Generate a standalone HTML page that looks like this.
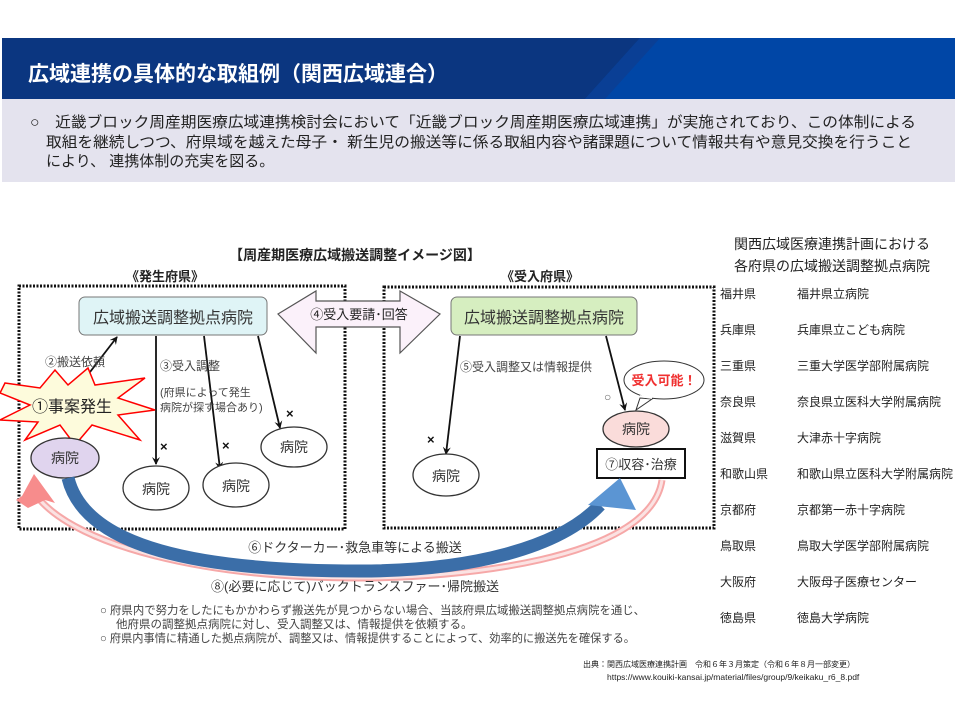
<!DOCTYPE html>
<html><head><meta charset="utf-8"><style>
body{margin:0;width:960px;height:720px;background:#fff;overflow:hidden;font-family:"Liberation Sans","Noto Sans CJK JP",sans-serif}
svg text{font-family:"Liberation Sans","Noto Sans CJK JP",sans-serif}
</style></head><body>
<svg width="960" height="720" viewBox="0 0 960 720" xmlns="http://www.w3.org/2000/svg">
<defs>
<marker id="ah" markerWidth="8" markerHeight="8" refX="7" refY="4" orient="auto" markerUnits="userSpaceOnUse"><path d="M0,0 L8,4 L0,8 L3,4 Z" fill="#111"/></marker>
</defs>
<rect x="2" y="38" width="953" height="61" fill="#0b3680"/>
<polygon points="640,38 955,38 955,99 585,99" fill="#0046a6"/>
<polygon points="640,38 660,38 605,99 585,99" fill="#0a3f95"/>
<text x="28" y="81" font-size="21" font-weight="bold" fill="#fff">広域連携の具体的な取組例（関西広域連合）</text>
<rect x="2" y="99" width="953" height="83" fill="#e4e3ee"/>
<g font-size="15" fill="#222">
<text x="30" y="127" textLength="886" lengthAdjust="spacingAndGlyphs">○　近畿ブロック周産期医療広域連携検討会において「近畿ブロック周産期医療広域連携」が実施されており、この体制による</text>
<text x="46" y="147" textLength="866" lengthAdjust="spacingAndGlyphs">取組を継続しつつ、府県域を越えた母子・ 新生児の搬送等に係る取組内容や諸課題について情報共有や意見交換を行うこと</text>
<text x="46" y="166">により、 連携体制の充実を図る。</text>
</g>
<text x="355" y="260" font-size="14" font-weight="bold" text-anchor="middle" fill="#222">【周産期医療広域搬送調整イメージ図】</text>
<text x="165" y="281" font-size="13" font-weight="bold" text-anchor="middle" fill="#222">《発生府県》</text>
<text x="540" y="281" font-size="13" font-weight="bold" text-anchor="middle" fill="#222">《受入府県》</text>
<rect x="19" y="286" width="326" height="243" fill="none" stroke="#111" stroke-width="3" stroke-dasharray="2,1.5"/>
<rect x="384" y="287" width="330" height="241" fill="none" stroke="#111" stroke-width="3" stroke-dasharray="2,1.5"/>
<polygon points="278,314 316,291 316,301 400,301 400,291 440,314 400,353 400,327 316,327 316,353" fill="#fbf1fa" stroke="#555" stroke-width="1.2"/>
<text x="359" y="319" font-size="13" text-anchor="middle" fill="#222">④受入要請･回答</text>
<rect x="79" y="297" width="188" height="38" rx="6" fill="#dff4f6" stroke="#777"/>
<text x="173" y="323" font-size="16" text-anchor="middle" fill="#333">広域搬送調整拠点病院</text>
<rect x="451" y="297" width="186" height="38" rx="6" fill="#d6eec0" stroke="#777"/>
<text x="544" y="323" font-size="16" text-anchor="middle" fill="#333">広域搬送調整拠点病院</text>
<g stroke="#111" stroke-width="1.8" fill="none" marker-end="url(#ah)">
<line x1="80" y1="385" x2="117" y2="337"/>
<line x1="156" y1="336" x2="156" y2="464"/>
<line x1="204" y1="336" x2="220" y2="469"/>
<line x1="258" y1="336" x2="280" y2="428"/>
<line x1="460" y1="336" x2="446" y2="454"/>
<line x1="606" y1="336" x2="625" y2="410"/>
</g>
<g font-size="12" fill="#444">
<text x="45" y="366">②搬送依頼</text>
<text x="160" y="370">③受入調整</text>
<text x="160" y="396" font-size="11">(府県によって発生</text>
<text x="160" y="411" font-size="11">病院が探す場合あり)</text>
<text x="460" y="371">⑤受入調整又は情報提供</text>
</g>
<g font-size="13" font-weight="bold" fill="#111">
<text x="160" y="451">×</text><text x="222" y="450">×</text><text x="286" y="418">×</text><text x="427" y="444">×</text>
</g>
<text x="604" y="401" font-size="12" fill="#666">○</text>
<polygon points="5,383 40,388 55,370 68,385 88,368 95,385 145,378 118,398 155,410 118,415 140,440 92,425 75,445 60,425 25,440 38,422 0,420 30,405 0,393" fill="#fdfbdc" stroke="#f00" stroke-width="1.5"/>
<text x="72" y="412" font-size="16" text-anchor="middle" fill="#222">①事案発生</text>
<g stroke="#333" stroke-width="1.3">
<ellipse cx="65" cy="458" rx="34" ry="20" fill="#e0d4ee"/>
<ellipse cx="156" cy="488" rx="33" ry="22" fill="#fff"/>
<ellipse cx="236" cy="485" rx="33" ry="22" fill="#fff"/>
<ellipse cx="294" cy="447" rx="33" ry="20" fill="#fff"/>
<ellipse cx="446" cy="475" rx="33" ry="21" fill="#fff"/>
<ellipse cx="636" cy="429" rx="33" ry="18" fill="#fadcda"/>
</g>
<g font-size="14" text-anchor="middle" fill="#333">
<text x="65" y="463">病院</text><text x="156" y="494">病院</text><text x="236" y="491">病院</text><text x="294" y="452">病院</text><text x="446" y="481">病院</text><text x="636" y="434">病院</text>
</g>
<path d="M640,398 L636,410 L652,399 Z" fill="#fff" stroke="#333"/>
<ellipse cx="664" cy="380" rx="40" ry="19" fill="#fff" stroke="#333"/>
<path d="M640,396 L652,398" stroke="#fff" stroke-width="2"/>
<text x="664" y="385" font-size="13" font-weight="bold" text-anchor="middle" fill="#f03030">受入可能！</text>
<rect x="597" y="449" width="88" height="29" fill="#fff" stroke="#111" stroke-width="2"/>
<text x="641" y="469" font-size="13" text-anchor="middle" fill="#333">⑦収容･治療</text>
<path d="M662,480 C650,562 450,578 360,578 C200,578 80,545 40,500" fill="none" stroke="#f6a8a8" stroke-width="7"/>
<path d="M662,480 C650,562 450,578 360,578 C200,578 80,545 40,500" fill="none" stroke="#fbe2e2" stroke-width="3"/>
<polygon points="34,474 55,503 45,500 28,508 16,500 22,496" fill="#f78c8c"/>
<path d="M68,478 C85,548 200,571 360,571 C470,571 560,548 600,505" fill="none" stroke="#3b6ea8" stroke-width="13"/>
<polygon points="620,478 636,510 588,505" fill="#5b95d3"/>
<text x="355" y="552" font-size="13" text-anchor="middle" fill="#333">⑥ドクターカー･救急車等による搬送</text>
<text x="355" y="591" font-size="13" text-anchor="middle" fill="#333">⑧(必要に応じて)バックトランスファー･帰院搬送</text>
<g font-size="11.5" fill="#444">
<text x="100" y="614" textLength="545" lengthAdjust="spacingAndGlyphs">○ 府県内で努力をしたにもかかわらず搬送先が見つからない場合、当該府県広域搬送調整拠点病院を通じ、</text>
<text x="116" y="628">他府県の調整拠点病院に対し、受入調整又は、情報提供を依頼する。</text>
<text x="100" y="642" textLength="535" lengthAdjust="spacingAndGlyphs">○ 府県内事情に精通した拠点病院が、調整又は、情報提供することによって、効率的に搬送先を確保する。</text>
</g>
<text x="583" y="667" font-size="8" fill="#222">出典：関西広域医療連携計画　令和６年３月策定（令和６年８月一部変更）</text>
<text x="607" y="680" font-size="8.5" fill="#222">https://www.kouiki-kansai.jp/material/files/group/9/keikaku_r6_8.pdf</text>
<g font-size="14" text-anchor="middle" fill="#222">
<text x="832" y="249">関西広域医療連携計画における</text>
<text x="832" y="271">各府県の広域搬送調整拠点病院</text>
</g>
<g font-size="12" fill="#222">
<text x="720" y="298">福井県</text><text x="797" y="298">福井県立病院</text>
<text x="720" y="334">兵庫県</text><text x="797" y="334">兵庫県立こども病院</text>
<text x="720" y="370">三重県</text><text x="797" y="370">三重大学医学部附属病院</text>
<text x="720" y="406">奈良県</text><text x="797" y="406">奈良県立医科大学附属病院</text>
<text x="720" y="442">滋賀県</text><text x="797" y="442">大津赤十字病院</text>
<text x="720" y="478">和歌山県</text><text x="797" y="478">和歌山県立医科大学附属病院</text>
<text x="720" y="514">京都府</text><text x="797" y="514">京都第一赤十字病院</text>
<text x="720" y="550">鳥取県</text><text x="797" y="550">鳥取大学医学部附属病院</text>
<text x="720" y="586">大阪府</text><text x="797" y="586">大阪母子医療センター</text>
<text x="720" y="622">徳島県</text><text x="797" y="622">徳島大学病院</text>
</g>
</svg>
</body></html>
